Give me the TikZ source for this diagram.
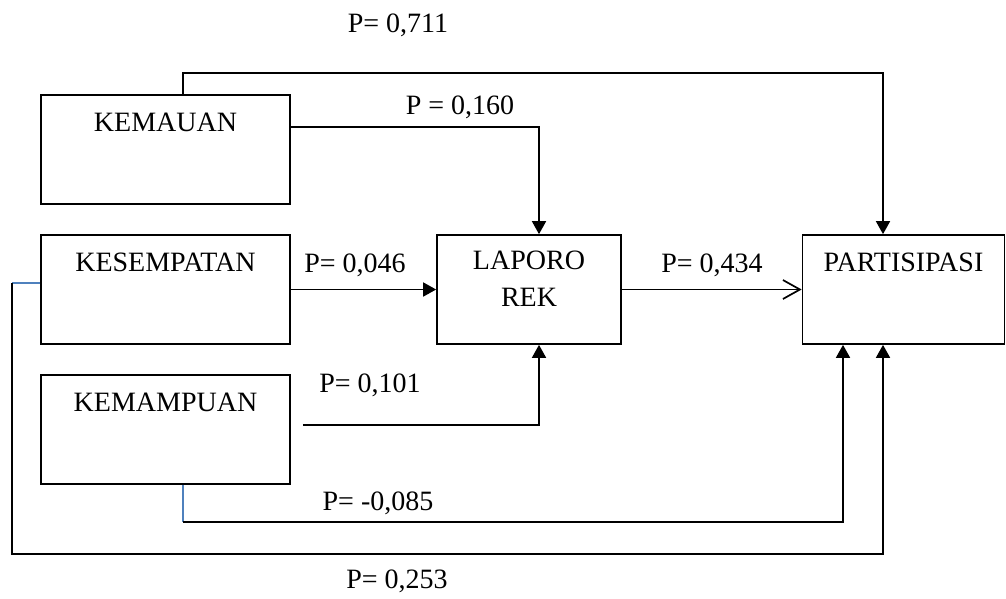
\documentclass[tikz,border=0pt]{standalone}
\usepackage{fontspec}
\setmainfont{Liberation Serif}
\usetikzlibrary{arrows.meta,calc}
\definecolor{wordblue}{RGB}{79,129,189}
\begin{document}
\begin{tikzpicture}[x=1pt,y=-1pt,
  font=\fontsize{28}{37}\selectfont,
  boxst/.style={draw,line width=1.7pt,rectangle,minimum width=249pt,minimum height=109pt,inner sep=0pt},
  txt/.style={inner sep=0pt,anchor=base,align=center},
  lbl/.style={inner sep=0pt,anchor=base},
  conn/.style={line width=1.7pt},
  arr/.style={conn,-{Triangle[length=13pt,width=14pt]}},
  openarr/.style={conn,-{Straight Barb[length=17pt,width=19pt,line width=1.7pt]}},
  blueline/.style={draw=wordblue,line width=1.4pt}]
\useasboundingbox (0,0) rectangle (1006,598);
% boxes
\node[boxst] (kemauan) at (165.5,149.5) {};
\node[boxst] (kesempatan) at (165.5,289.5) {};
\node[boxst] (kemampuan) at (165.5,429.5) {};
\node[boxst,minimum width=184pt] (laporo) at (529,289.5) {};
\node[boxst,minimum width=202pt] (partisipasi) at (903.5,289.5) {};
% box texts
\node[txt] (t1) at ($(kemauan.north)+(0,37)$) {KEMAUAN};
\node[txt] (t2) at ($(kesempatan.north)+(0,37)$) {KESEMPATAN};
\node[txt] (t3) at ($(kemampuan.north)+(0,37)$) {KEMAMPUAN};
\node[txt] (t4) at ($(laporo.north)+(0,72)$) {LAPORO\\REK};
\node[txt] (t5) at ($(partisipasi.north)+(0,37)$) {PARTISIPASI};
% connectors
\draw[arr] ($(kemauan.north)+(17.5,0)$) -- ++(0,-21) -| ($(partisipasi.north)+(-20.5,0)$);
\draw[arr] ($(kemauan.east)+(0,-22.5)$) -| ($(laporo.north)+(10,0)$);
\draw[arr] (kesempatan.east) -- (kesempatan.east -| laporo.west);
\coordinate (kmstart) at ($(kemampuan.east)+(12,-4.5)$);
\draw[arr] (kmstart) -| ($(laporo.south)+(10,0)$);
\draw[openarr] (laporo.east) -- (laporo.east -| partisipasi.west);
\draw[blueline] ($(kemampuan.south)+(17.5,0)$) -- ++(0,37) coordinate (kmb);
\draw[arr] (kmb) -| ($(partisipasi.south)+(-60.5,0)$);
\draw[blueline] ($(kesempatan.west)+(0,-6.5)$) -- ++(-28,0) coordinate (ksl);
\draw[arr] (ksl) -- ++(0,271) -| ($(partisipasi.south)+(-20.5,0)$);
% labels
\node[lbl] (p1) at (398,32) {P= 0,711};
\node[lbl] (p2) at (460,114) {P = 0,160};
\node[lbl] (p3) at (355,272) {P= 0,046};
\node[lbl] (p4) at (712,272) {P= 0,434};
\node[lbl] (p5) at (370,392) {P= 0,101};
\node[lbl] (p6) at (378,510) {P= -0,085};
\node[lbl] (p7) at (397,588) {P= 0,253};
\end{tikzpicture}
\end{document}
